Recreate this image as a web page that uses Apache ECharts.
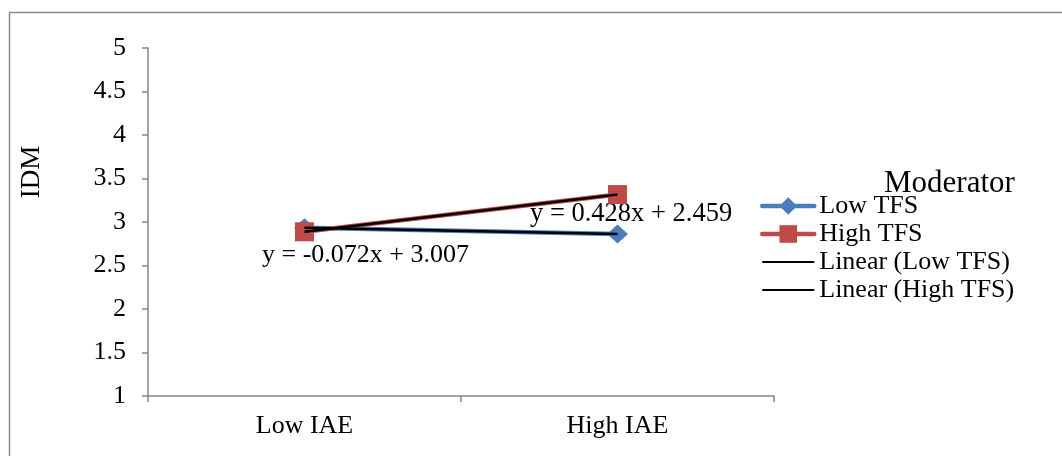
<!DOCTYPE html>
<html>
<head>
<meta charset="utf-8">
<script src="https://cdn.jsdelivr.net/npm/echarts@6/dist/echarts.min.js"></script>
<style>html,body{margin:0;padding:0;background:#fff}#c{width:1062px;height:456px}</style>
</head>
<body>
<div id="c"></div>
<script>
const categories = ['Low IAE', 'High IAE'];
const lowTFS = [2.935, 2.863];
const highTFS = [2.887, 3.315];
const linearLowTFS = [2.935, 2.863];
const linearHighTFS = [2.887, 3.315];
const seriesNames = ['Low TFS', 'High TFS', 'Linear (Low TFS)', 'Linear (High TFS)'];
const eqLow = 'y = -0.072x + 3.007';
const eqHigh = 'y = 0.428x + 2.459';

const FONT = '"Liberation Serif", "Times New Roman", serif';
const axisGray = '#868686';
const blue = '#4a7ebb';
const red = '#be4b48';

const chart = echarts.init(document.getElementById('c'), null, {renderer: 'canvas'});
chart.setOption({
  animation: false,
  backgroundColor: '#fff',
  textStyle: {fontFamily: FONT, color: '#000'},
  grid: {left: 148, top: 48, right: 288, bottom: 60, containLabel: false},
  xAxis: {
    type: 'category',
    data: categories,
    boundaryGap: true,
    axisLine: {lineStyle: {color: axisGray, width: 1.5}},
    axisTick: {show: true, length: 6, lineStyle: {color: axisGray, width: 1.5}},
    axisLabel: {fontFamily: FONT, fontSize: 26, color: '#000', margin: 17},
    splitLine: {show: false}
  },
  yAxis: {
    type: 'value',
    min: 1, max: 5, interval: 0.5,
    axisLine: {show: true, lineStyle: {color: axisGray, width: 1.5}},
    axisTick: {show: true, length: 6, lineStyle: {color: axisGray, width: 1.5}},
    axisLabel: {fontFamily: FONT, fontSize: 26, color: '#000', margin: 22},
    splitLine: {show: false}
  },
  legend: {
    orient: 'vertical',
    left: 760, top: 193,
    padding: 0,
    itemGap: 2,
    itemWidth: 52, itemHeight: 22,
    textStyle: {fontFamily: FONT, fontSize: 26, color: '#000', lineHeight: 26},
    data: [
      {name: seriesNames[0], lineStyle: {width: 4.5, cap: 'round'}},
      {name: seriesNames[1], lineStyle: {width: 4.5, cap: 'round'}},
      {name: seriesNames[2], lineStyle: {width: 2}, itemStyle: {opacity: 0}},
      {name: seriesNames[3], lineStyle: {width: 2}, itemStyle: {opacity: 0}}
    ]
  },
  graphic: [
    {type: 'rect', shape: {x: 9.5, y: 12.5, width: 1200, height: 600}, style: {fill: 'none', stroke: '#8a8a8a', lineWidth: 1.5}, silent: true},
    {type: 'text', x: 884, y: 184, style: {text: 'Moderator', font: '31px ' + FONT, fill: '#000', align: 'left', verticalAlign: 'middle'}},
    {type: 'text', x: 32, y: 172, rotation: Math.PI / 2, style: {text: 'IDM', font: '27px ' + FONT, fill: '#000', align: 'center', verticalAlign: 'middle'}},
    {type: 'text', x: 262, y: 255, style: {text: eqLow, font: '26px ' + FONT, fill: '#000', align: 'left', verticalAlign: 'middle'}},
    {type: 'text', x: 530, y: 214, style: {text: eqHigh, font: '26.5px ' + FONT, fill: '#000', align: 'left', verticalAlign: 'middle'}}
  ],
  series: [
    {name: seriesNames[0], type: 'line', data: lowTFS, symbol: 'diamond', symbolSize: [21, 19],
     lineStyle: {color: blue, width: 4.5}, itemStyle: {color: blue}},
    {name: seriesNames[1], type: 'line', data: highTFS, symbol: 'rect', symbolSize: 19,
     lineStyle: {color: red, width: 4.5}, itemStyle: {color: red}},
    {name: seriesNames[2], type: 'line', data: linearLowTFS, symbol: 'none',
     lineStyle: {color: '#000', width: 2.5}, itemStyle: {color: '#000'}, z: 5},
    {name: seriesNames[3], type: 'line', data: linearHighTFS, symbol: 'none',
     lineStyle: {color: '#000', width: 2.5}, itemStyle: {color: '#000'}, z: 5}
  ]
});
</script>
</body>
</html>
